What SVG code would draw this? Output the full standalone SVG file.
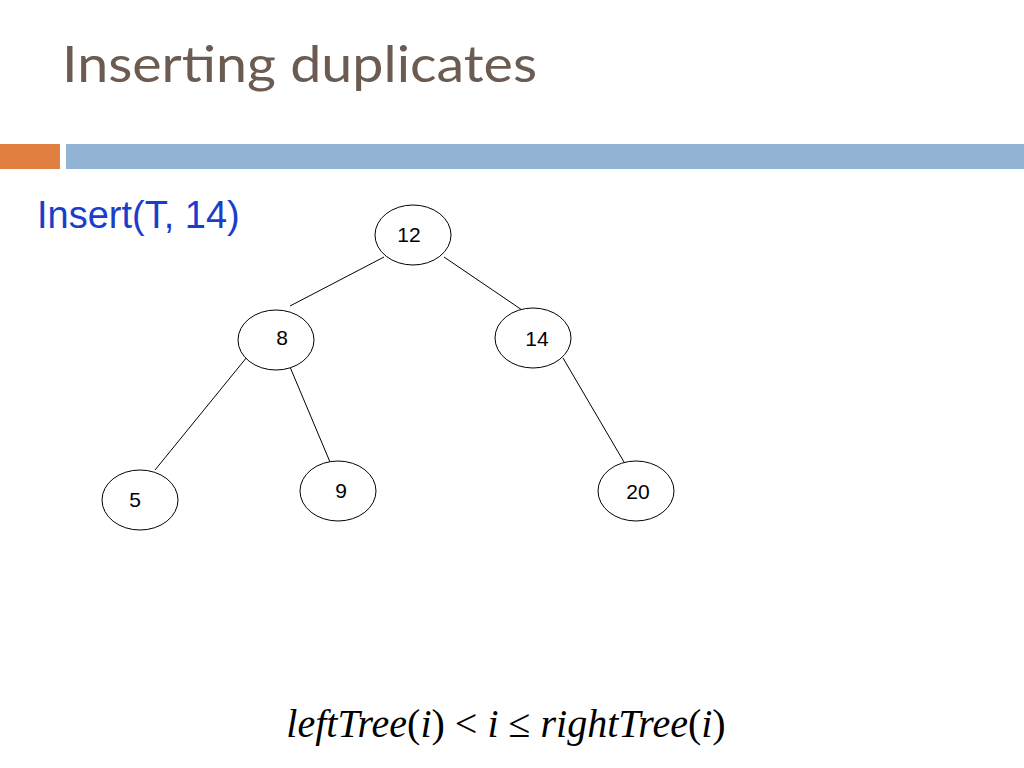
<svg xmlns="http://www.w3.org/2000/svg" width="1024" height="768" viewBox="0 0 1024 768">
<style>
.n ellipse{fill:#fff;stroke:#000;stroke-width:1}
.n text{font-family:"Liberation Sans",Arial,sans-serif;font-size:21px;text-anchor:middle}
#edges line{stroke:#000;stroke-width:1}
</style>
<rect width="1024" height="768" fill="#fff"/>
<text x="62" y="82" font-family="Lato,'Open Sans',sans-serif" font-size="50" textLength="475" lengthAdjust="spacingAndGlyphs" fill="#6b5b50">Inserting duplicates</text>
<rect x="0" y="144" width="60" height="25" fill="#e07f3f"/>
<rect x="66" y="144" width="958" height="25" fill="#93b4d4"/>
<text x="37" y="228" font-family="'Liberation Sans',Arial,sans-serif" font-size="38" fill="#1a3ecb">Insert(T, 14)</text>
<g id="edges">
<line x1="384" y1="257" x2="290" y2="306"/>
<line x1="444" y1="257" x2="522" y2="310"/>
<line x1="247" y1="357" x2="155" y2="470"/>
<line x1="290" y1="367" x2="330" y2="462"/>
<line x1="563" y1="358" x2="624" y2="462"/>
</g>
<g id="n12" class="n"><ellipse cx="413" cy="235" rx="38" ry="30"/><text x="409" y="242">12</text></g>
<g id="n8" class="n"><ellipse cx="276" cy="340" rx="38" ry="30"/><text x="282" y="345">8</text></g>
<g id="n14" class="n"><ellipse cx="533" cy="338" rx="38" ry="30"/><text x="537" y="346">14</text></g>
<g id="n5" class="n"><ellipse cx="140" cy="500" rx="38" ry="30"/><text x="135" y="507">5</text></g>
<g id="n9" class="n"><ellipse cx="338" cy="491" rx="38" ry="30"/><text x="341" y="498">9</text></g>
<g id="n20" class="n"><ellipse cx="636" cy="491" rx="38" ry="30"/><text x="638" y="499">20</text></g>
<text x="506" y="737" text-anchor="middle" font-family="'Liberation Serif','Times New Roman',serif" font-size="40"><tspan font-style="italic">leftTree</tspan>(<tspan font-style="italic">i</tspan>) &lt; <tspan font-style="italic">i</tspan> ≤ <tspan font-style="italic">rightTree</tspan>(<tspan font-style="italic">i</tspan>)</text>
</svg>
